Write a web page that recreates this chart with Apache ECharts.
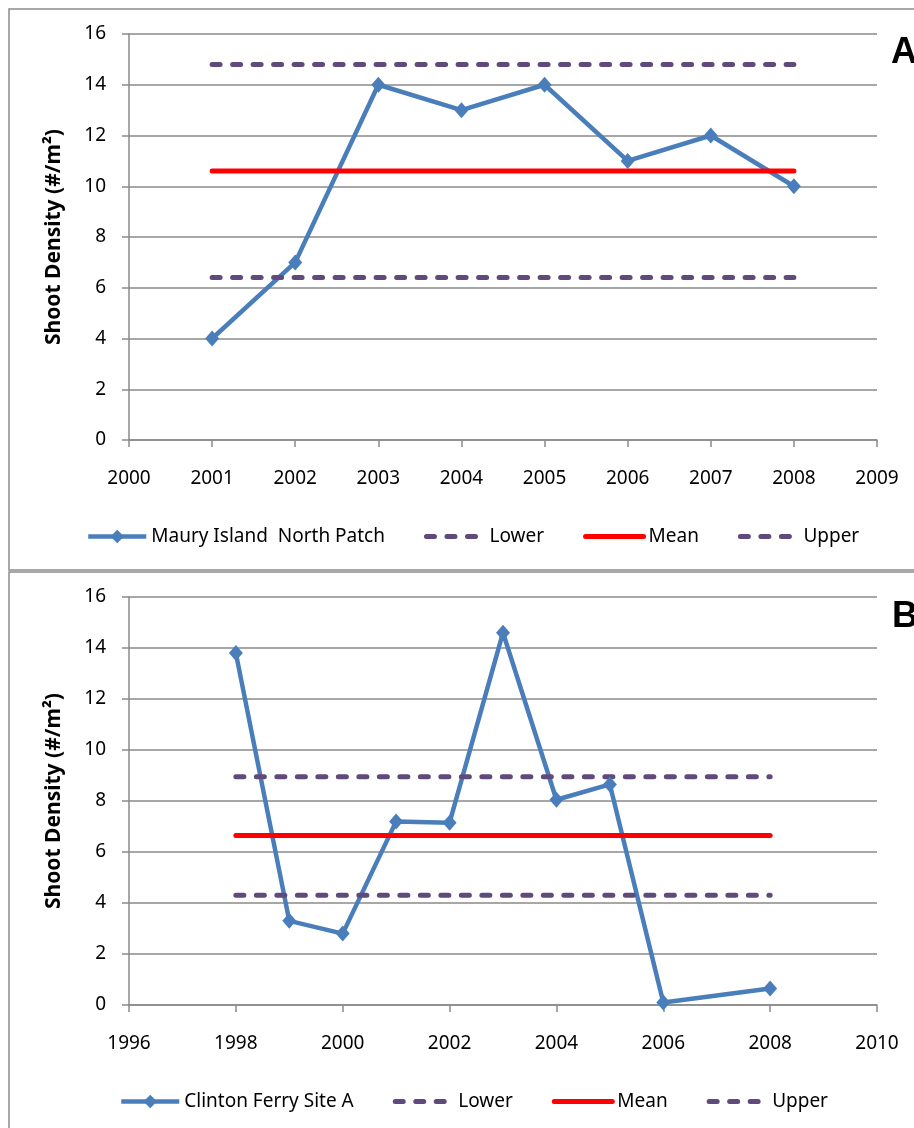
<!DOCTYPE html>
<html>
<head>
    <meta charset="utf-8">
    <title>Shoot Density</title>
    <script src="https://cdn.jsdelivr.net/npm/echarts@6/dist/echarts.min.js"></script>
    <style>
        html, body { margin: 0; padding: 0; background: #fff; }
        #chart { width: 914px; height: 1128px; }
    </style>
</head>
<body>
    <div id="chart"></div>
    <script>
        // panel A - Maury Island North Patch
        var yearsA = [2001, 2002, 2003, 2004, 2005, 2006, 2007, 2008];
        var densityA = [4, 7, 14, 13, 14, 11, 12, 10];
        var lowerA = 6.4, meanA = 10.6, upperA = 14.8;

        // panel B - Clinton Ferry Site A
        var yearsB = [1998, 1999, 2000, 2001, 2002, 2003, 2004, 2005, 2006, 2008];
        var densityB = [13.8, 3.3, 2.8, 7.2, 7.15, 14.6, 8.05, 8.65, 0.1, 0.65];
        var lowerB = 4.3, meanB = 6.65, upperB = 8.95;

        var yTicks = [0, 2, 4, 6, 8, 10, 12, 14, 16];

        var FONT = '"Noto Sans", "Liberation Sans", sans-serif';
        var BLUE = '#4A7EBB', PURPLE = '#604A7B', RED = '#FF0000', GRID = '#8a8a8a';

        function pairs(xs, ys) {
            return xs.map(function (x, i) { return [x, ys[i]]; });
        }
        function flat(xs, v) {
            return [[xs[0], v], [xs[xs.length - 1], v]];
        }

        function xAxis(idx, min, max, step) {
            return {
                type: 'value', gridIndex: idx, min: min, max: max, interval: step,
                axisLine: { lineStyle: { color: GRID, width: 1.5 } },
                axisTick: { show: true, length: 7, lineStyle: { color: GRID, width: 1.5 } },
                axisLabel: { margin: 29, color: '#000', fontSize: 19, fontFamily: FONT,
                    formatter: function (v) { return String(v); } },
                splitLine: { show: false }
            };
        }
        function yAxis(idx) {
            return {
                type: 'value', gridIndex: idx, min: yTicks[0], max: yTicks[yTicks.length - 1], interval: 2,
                name: 'Shoot Density (#/m²)', nameLocation: 'middle', nameGap: 64,
                nameTextStyle: { color: '#000', fontSize: 21, fontWeight: 'bold', fontFamily: FONT },
                axisLine: { show: true, lineStyle: { color: GRID, width: 1.5 } },
                axisTick: { show: true, length: 7, lineStyle: { color: GRID, width: 1.5 } },
                axisLabel: { margin: 23, color: '#000', fontSize: 19, fontFamily: FONT },
                splitLine: { lineStyle: { color: GRID, width: 1.5 } }
            };
        }
        // transparent item colour keeps the legend from drawing a dot on plain lines
        function dashed(name, idx, data) {
            return {
                name: name, type: 'line', xAxisIndex: idx, yAxisIndex: idx, data: data,
                symbol: 'none', silent: true,
                lineStyle: { color: PURPLE, width: 5, type: [8, 12.5], cap: 'round' },
                itemStyle: { color: 'transparent', borderWidth: 0 }
            };
        }
        function meanLine(idx, data) {
            return {
                name: 'Mean', type: 'line', xAxisIndex: idx, yAxisIndex: idx, data: data,
                symbol: 'none', silent: true,
                lineStyle: { color: RED, width: 5, cap: 'round' },
                itemStyle: { color: 'transparent', borderWidth: 0 }
            };
        }
        function mainLine(name, idx, data) {
            return {
                name: name, type: 'line', xAxisIndex: idx, yAxisIndex: idx, data: data,
                symbol: 'diamond', symbolSize: [14, 16],
                lineStyle: { color: BLUE, width: 4.5 },
                itemStyle: { color: BLUE }
            };
        }
        function legend(left, top, names) {
            return {
                left: left, top: top, padding: 0, itemWidth: 58, itemHeight: 17, itemGap: 39,
                data: names, selectedMode: false,
                lineStyle: { width: 'inherit' },
                textStyle: { color: '#000', fontSize: 19, fontFamily: FONT }
            };
        }

        var chart = echarts.init(document.getElementById('chart'));

        var option = {
            animation: false,
            backgroundColor: '#fff',
            title: [
                { text: 'A', left: 886, top: 30, textStyle: { fontSize: 36, fontWeight: 'bold', color: '#000', fontFamily: '"Liberation Sans", sans-serif' } },
                { text: 'B', left: 887, top: 594, textStyle: { fontSize: 36, fontWeight: 'bold', color: '#000', fontFamily: '"Liberation Sans", sans-serif' } }
            ],
            graphic: [
                { type: 'rect', shape: { x: 9, y: 9, width: 1000, height: 561 }, style: { fill: 'none', stroke: '#8c8c8c', lineWidth: 1.5 }, z: -1 },
                { type: 'rect', shape: { x: 9, y: 572, width: 1000, height: 600 }, style: { fill: 'none', stroke: '#8c8c8c', lineWidth: 1.5 }, z: -1 }
            ],
            legend: [
                legend(86, 527, ['Maury Island  North Patch', 'Lower', 'Mean', 'Upper']),
                legend(119, 1092, ['Clinton Ferry Site A', 'Lower', 'Mean', 'Upper'])
            ],
            grid: [
                { left: 129, top: 34, width: 748, height: 406 },
                { left: 129, top: 597, width: 748, height: 408 }
            ],
            xAxis: [xAxis(0, 2000, 2009, 1), xAxis(1, 1996, 2010, 2)],
            yAxis: [yAxis(0), yAxis(1)],
            series: [
                mainLine('Maury Island  North Patch', 0, pairs(yearsA, densityA)),
                dashed('Lower', 0, flat(yearsA, lowerA)),
                meanLine(0, flat(yearsA, meanA)),
                dashed('Upper', 0, flat(yearsA, upperA)),
                mainLine('Clinton Ferry Site A', 1, pairs(yearsB, densityB)),
                dashed('Lower', 1, flat(yearsB, lowerB)),
                meanLine(1, flat(yearsB, meanB)),
                dashed('Upper', 1, flat(yearsB, upperB))
            ]
        };
        chart.setOption(option);
    </script>
</body>
</html>
